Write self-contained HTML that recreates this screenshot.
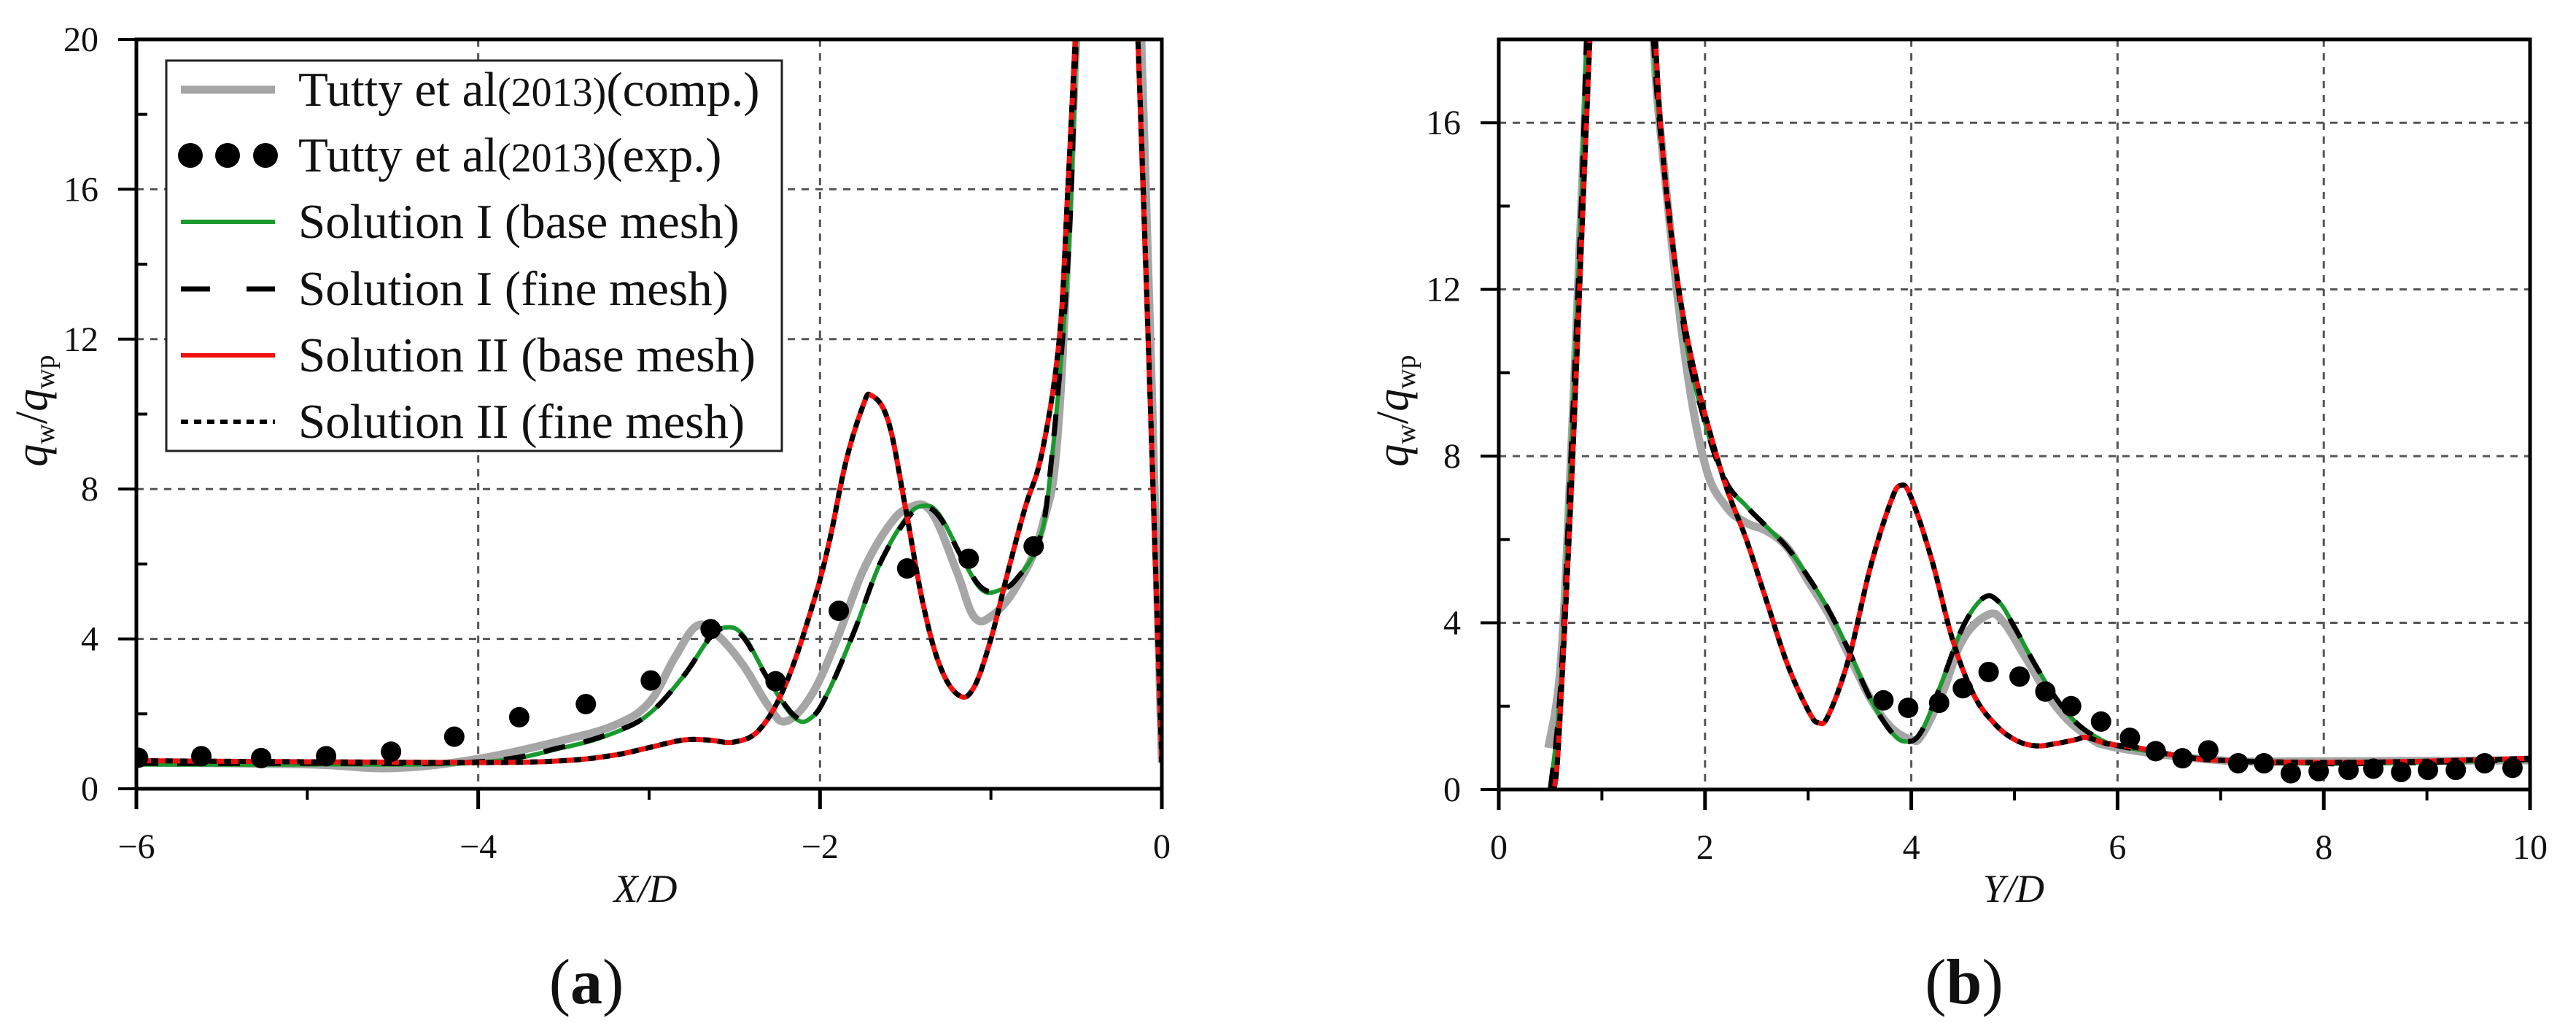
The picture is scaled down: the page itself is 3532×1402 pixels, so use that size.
<!DOCTYPE html>
<html><head><meta charset="utf-8"><style>
html,body{margin:0;padding:0;background:#fff}
svg{display:block}
text{font-family:"Liberation Serif",serif;fill:#111}
</style></head><body>
<svg id="fig" width="3532" height="1402" viewBox="0 0 3532 1402" xmlns="http://www.w3.org/2000/svg">
<defs>
<clipPath id="clipA"><rect x="187" y="54" width="1406" height="1027"/></clipPath>
<clipPath id="clipB"><rect x="2055" y="54" width="1414" height="1028"/></clipPath>
</defs>
<g id="chartA"></g>
<g id="chartB"></g>
</svg>
<script>
// ---------- Panel (a) data ----------
const aExpX = [-5.99,-5.62,-5.27,-4.89,-4.51,-4.14,-3.76,-3.37,-2.99,-2.64,-2.26,-1.89,-1.49,-1.13,-0.75];
const aExpY = [0.83,0.87,0.82,0.87,0.99,1.39,1.91,2.26,2.89,4.26,2.87,4.75,5.88,6.14,6.47];
const aCompX = [-6,-5,-4.5,-4,-3.5,-3.2,-3,-2.85,-2.72,-2.6,-2.45,-2.3,-2.2,-2.05,-1.9,-1.75,-1.6,-1.48,-1.35,-1.2,-1.1,-1.0,-0.85,-0.7,-0.6,-0.5,-0.45,-0.2,-0.12,0];
const aCompY = [0.7,0.65,0.55,0.8,1.3,1.7,2.3,3.5,4.35,4.1,3.3,2.2,1.8,2.5,4.0,5.8,7.0,7.5,7.4,5.8,4.6,4.6,5.4,7.0,10,20,24,24,20,0.7];
const aSol1X = [-6,-5,-4,-3.5,-3.2,-3,-2.8,-2.65,-2.56,-2.45,-2.3,-2.15,-2.05,-1.95,-1.8,-1.65,-1.5,-1.4,-1.3,-1.15,-1.05,-0.95,-0.85,-0.72,-0.65,-0.55,-0.5,-0.45,-0.2,-0.14,0];
const aSol1Y = [0.65,0.65,0.7,1.1,1.5,2.0,3.0,4.0,4.3,4.1,2.9,1.9,1.9,2.6,4.2,6.0,7.2,7.55,7.3,6.0,5.3,5.3,5.6,6.6,8.5,14,20,24,24,20,0.7];
const aSol1fY = [0.68,0.68,0.72,1.12,1.52,2.0,3.0,4.0,4.28,4.05,2.9,1.95,1.9,2.6,4.2,6.0,7.15,7.5,7.25,6.0,5.35,5.3,5.6,6.6,8.6,14,20,24,24,20,0.7];
const aSol2X = [-6,-5,-4,-3.5,-3.2,-3,-2.8,-2.65,-2.5,-2.35,-2.2,-2.05,-1.95,-1.85,-1.75,-1.7,-1.6,-1.5,-1.4,-1.3,-1.19,-1.1,-1.0,-0.9,-0.8,-0.7,-0.6,-0.55,-0.5,-0.45,-0.2,-0.14,0];
const aSol2Y = [0.75,0.72,0.7,0.75,0.9,1.1,1.3,1.3,1.25,1.6,2.8,4.8,6.5,8.7,10.2,10.5,9.8,7.5,5.0,3.3,2.5,2.7,4.0,5.8,7.5,9.0,12,16,20.5,24,24,20,0.7];

// ---------- Panel (b) data ----------
const bExpX = [3.73,3.97,4.27,4.50,4.75,5.05,5.30,5.55,5.84,6.12,6.37,6.63,6.88,7.17,7.42,7.68,7.95,8.24,8.48,8.75,9.01,9.28,9.56,9.83];
const bExpY = [2.14,1.96,2.08,2.43,2.82,2.71,2.35,2.00,1.63,1.24,0.92,0.75,0.94,0.63,0.63,0.39,0.44,0.47,0.50,0.42,0.47,0.47,0.63,0.52];
const bCompX = [0.48,0.6,0.7,0.8,0.9,1.0,1.4,1.5,1.6,1.8,2.0,2.2,2.4,2.6,2.8,3.0,3.2,3.4,3.6,3.8,4.0,4.1,4.3,4.5,4.75,4.9,5.1,5.4,5.7,6.0,7.0,8.0,10.0];
const bCompY = [1.0,3,8,14,20,24,24,18,15,10.5,7.8,6.8,6.4,6.2,5.8,5.0,4.2,3.2,2.2,1.5,1.2,1.3,2.3,3.6,4.2,4.0,3.2,2.0,1.3,1.0,0.7,0.68,0.7];
const bSol1X = [0.5,0.6,0.7,0.8,0.85,0.9,1.0,1.4,1.45,1.5,1.6,1.8,2.0,2.2,2.4,2.6,2.8,3.0,3.2,3.4,3.6,3.8,3.95,4.1,4.3,4.5,4.7,4.85,5.0,5.2,5.4,5.6,5.8,6.0,6.5,7.0,8.0,9.0,10.0];
const bSol1Y = [0,2.5,8,14,18,22,25,25,22,18,15,11,8.8,7.4,6.8,6.3,5.8,5.1,4.3,3.3,2.2,1.4,1.15,1.4,2.6,3.9,4.6,4.5,3.9,3.0,2.2,1.6,1.25,1.05,0.85,0.7,0.62,0.65,0.72];
const bSol2X = [0.5,0.55,0.6,0.7,0.8,0.85,0.9,1.0,1.4,1.52,1.6,1.7,1.8,1.9,2.0,2.2,2.4,2.6,2.8,3.0,3.1,3.2,3.4,3.6,3.8,3.9,4.0,4.2,4.4,4.6,4.8,5.0,5.2,5.4,5.6,5.7,5.9,6.2,6.6,7.0,8.0,9.0,10.0];
const bSol2Y = [0,0.2,2,7,13,16,19,25,25,18,15,12.8,11.2,10,9.0,7.3,6.0,4.5,3.0,1.9,1.6,1.8,3.2,5.3,6.9,7.3,7.0,5.5,3.6,2.3,1.6,1.2,1.05,1.1,1.2,1.25,1.1,1.0,0.8,0.7,0.65,0.68,0.75];

const aXTicks = [-6,-4,-2,0];
const aXTickLabels = ["\u22126","\u22124","\u22122","0"];
const aYTicks = [0,4,8,12,16,20];
const aYTickLabels = ["0","4","8","12","16","20"];
const bXTicks = [0,2,4,6,8,10];
const bXTickLabels = ["0","2","4","6","8","10"];
const bYTicks = [0,4,8,12,16];
const bYTickLabels = ["0","4","8","12","16"];

const NS = "http://www.w3.org/2000/svg";
function mk(parent, tag, attrs, txt){
  const e = document.createElementNS(NS, tag);
  for (const k in attrs) e.setAttribute(k, attrs[k]);
  if (txt !== undefined) e.textContent = txt;
  parent.appendChild(e); return e;
}
function smoothPath(pts){
  let d = "M" + pts[0][0].toFixed(1) + "," + pts[0][1].toFixed(1);
  for (let i = 0; i < pts.length - 1; i++){
    const p0 = pts[i-1] || pts[i], p1 = pts[i], p2 = pts[i+1], p3 = pts[i+2] || p2;
    const t = 0.18;
    const c1 = [p1[0] + (p2[0]-p0[0])*t, p1[1] + (p2[1]-p0[1])*t];
    const c2 = [p2[0] - (p3[0]-p1[0])*t, p2[1] - (p3[1]-p1[1])*t];
    d += " C" + c1[0].toFixed(1)+","+c1[1].toFixed(1)+" "+c2[0].toFixed(1)+","+c2[1].toFixed(1)+" "+p2[0].toFixed(1)+","+p2[1].toFixed(1);
  }
  return d;
}

function panel(g, cfg){
  const sx = v => cfg.x0 + (v - cfg.xmin) / (cfg.xmax - cfg.xmin) * (cfg.x1 - cfg.x0);
  const sy = v => cfg.y0 - (v - cfg.ymin) / (cfg.ymax - cfg.ymin) * (cfg.y0 - cfg.y1);
  cfg.xTicks.forEach(v => {
    if (v === cfg.xmin || v === cfg.xmax) return;
    const l = mk(g, "line", {x1:sx(v), x2:sx(v), y1:cfg.y1, y2:cfg.y0, stroke:"#555", "stroke-width":3, "stroke-dasharray":"10,9"});
    
    
  });
  cfg.yTicks.forEach(v => {
    if (v === cfg.ymin || v === cfg.ymax) return;
    const l = mk(g, "line", {x1:cfg.x0, x2:cfg.x1, y1:sy(v), y2:sy(v), stroke:"#555", "stroke-width":3, "stroke-dasharray":"10,9"});
    
    
  });
  const series = g.appendChild(document.createElementNS(NS, "g"));
  series.setAttribute("clip-path", "url(#" + cfg.clip + ")");
  
  
  cfg.lines.forEach(s => {
    const pts = s.x.map((v, i) => [sx(v), sy(s.y[i])]);
    const attrs = {d:smoothPath(pts), fill:"none", stroke:s.color, "stroke-width":s.w, "stroke-linejoin":"round"};
    if (s.dash) attrs["stroke-dasharray"] = s.dash;
    const p = mk(series, "path", attrs);
    
    
  });
  cfg.expX.forEach((v, i) => {
    const c = mk(series, "circle", {cx:sx(v), cy:sy(cfg.expY[i]), r:14, fill:"#000"});
    
    
  });
  const fr = mk(g, "rect", {x:cfg.x0, y:cfg.y1, width:cfg.x1-cfg.x0, height:cfg.y0-cfg.y1, fill:"none", stroke:"#000", "stroke-width":5});
  
  
  cfg.xTicks.forEach((v, i) => {
    const t = mk(g, "line", {x1:sx(v), x2:sx(v), y1:cfg.y0, y2:cfg.y0+28, stroke:"#000", "stroke-width":5});
    
    
    const lb = mk(g, "text", {x:sx(v), y:cfg.y0+95, "font-size":48, "text-anchor":"middle"}, cfg.xLabels[i]);
    
    
  });
  for (let v = cfg.xmin + cfg.xStep/2; v < cfg.xmax; v += cfg.xStep){
    const t = mk(g, "line", {x1:sx(v), x2:sx(v), y1:cfg.y0, y2:cfg.y0+15, stroke:"#000", "stroke-width":4});
    
    
  }
  cfg.yTicks.forEach((v, i) => {
    const t = mk(g, "line", {x1:cfg.x0-25, x2:cfg.x0, y1:sy(v), y2:sy(v), stroke:"#000", "stroke-width":4});
    
    
    const lb = mk(g, "text", {x:cfg.x0-52, y:sy(v)+16, "font-size":48, "text-anchor":"end"}, cfg.yLabels[i]);
    
    
  });
  for (let v = cfg.ymin + 2; v < cfg.ymax; v += 4){
    const t = mk(g, "line", {x1:cfg.x0, x2:cfg.x0+15, y1:sy(v), y2:sy(v), stroke:"#000", "stroke-width":4});
    
    
  }
  const xt = mk(g, "text", {x:cfg.xTitleX, y:1236, "font-size":54, "font-style":"italic", "text-anchor":"middle"}, cfg.xTitle);
  
  
  const yt = mk(g, "text", {transform:"translate(" + cfg.yTitleX + ",563) rotate(-90)", "font-size":62, "text-anchor":"middle"});
  
  
  yt.innerHTML = '<tspan font-style="italic">q</tspan><tspan font-size="38" dy="10">w</tspan><tspan dy="-10">/</tspan><tspan font-style="italic">q</tspan><tspan font-size="38" dy="10">wp</tspan>';
  const cap = mk(g, "text", {x:cfg.capX, y:1375, "font-size":88, "text-anchor":"middle"});
  
  
  cap.innerHTML = '(<tspan font-weight="bold">' + cfg.cap + '</tspan>)';
}

panel(document.getElementById("chartA"), {
  x0:187, x1:1593, y0:1081, y1:54, xmin:-6, xmax:0, ymin:0, ymax:20, xStep:2, clip:"clipA",
  xTicks:aXTicks, xLabels:aXTickLabels, yTicks:aYTicks, yLabels:aYTickLabels,
  xTitle:"X/D", xTitleX:885, yTitleX:64, capX:804, cap:"a",
  expX:aExpX, expY:aExpY,
  lines:[
    {name:"tutty-comp-line", x:aCompX, y:aCompY, color:"#a6a6a6", w:11},
    {name:"solution-1-base-line", x:aSol1X, y:aSol1Y, color:"#1a9a2e", w:6},
    {name:"solution-1-fine-line", x:aSol1X, y:aSol1fY, color:"#000", w:7, dash:"30,26"},
    {name:"solution-2-base-line", x:aSol2X, y:aSol2Y, color:"#f01010", w:7},
    {name:"solution-2-fine-line", x:aSol2X, y:aSol2Y, color:"#000", w:7, dash:"10,10"}
  ]
});
panel(document.getElementById("chartB"), {
  x0:2055, x1:3469, y0:1082, y1:54, xmin:0, xmax:10, ymin:0, ymax:18, xStep:2, clip:"clipB",
  xTicks:bXTicks, xLabels:bXTickLabels, yTicks:bYTicks, yLabels:bYTickLabels,
  xTitle:"Y/D", xTitleX:2761, yTitleX:1930, capX:2693, cap:"b",
  expX:bExpX, expY:bExpY,
  lines:[
    {name:"tutty-comp-line", x:bCompX, y:bCompY, color:"#a6a6a6", w:11},
    {name:"solution-1-base-line", x:bSol1X, y:bSol1Y, color:"#1a9a2e", w:6},
    {name:"solution-1-fine-line", x:bSol1X, y:bSol1Y, color:"#000", w:7, dash:"30,26"},
    {name:"solution-2-base-line", x:bSol2X, y:bSol2Y, color:"#f01010", w:7},
    {name:"solution-2-fine-line", x:bSol2X, y:bSol2Y, color:"#000", w:7, dash:"10,10"}
  ]
});

(function(){
  const g = mk(document.getElementById("chartA"), "g", {});
  
  
  const box = mk(g, "rect", {x:228, y:83, width:844, height:535, fill:"#fff", stroke:"#222", "stroke-width":3});
  
  
  const rows = [
    {t:'Tutty et al<tspan font-size="56">(2013)</tspan>(comp.)', color:"#a6a6a6", w:11},
    {t:'Tutty et al<tspan font-size="56">(2013)</tspan>(exp.)', dots:true},
    {t:'Solution I (base mesh)', color:"#1a9a2e", w:6},
    {t:'Solution I (fine mesh)', color:"#000", w:7, dash:"40,50"},
    {t:'Solution II (base mesh)', color:"#f01010", w:6},
    {t:'Solution II (fine mesh)', color:"#000", w:6, dash:"10,8"}
  ];
  const ys = [123,213,304,396,487,578];
  rows.forEach((r, i) => {
    const y = ys[i];
    if (r.dots){
      [261,312,364].forEach(cx => {
        const c = mk(g, "circle", {cx:cx, cy:y, r:17, fill:"#000"});
        
        
      });
    } else {
      const a = {x1:248, x2:377, y1:y, y2:y, stroke:r.color, "stroke-width":r.w};
      if (r.dash) a["stroke-dasharray"] = r.dash;
      const l = mk(g, "line", a);
      
      
    }
    const tx = mk(g, "text", {x:409, y:y+22, "font-size":67});
    
    
    tx.innerHTML = r.t;
  });
})();
</script>
</body></html>
